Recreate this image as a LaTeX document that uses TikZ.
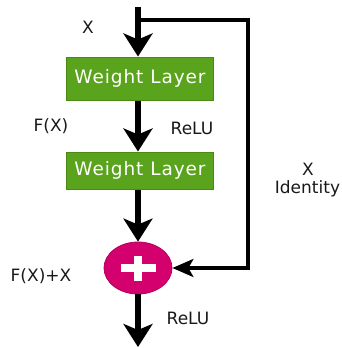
\documentclass[tikz,border=0pt]{standalone}
\usepackage{fontspec}
\setmainfont{DejaVu Sans}
\newfontfamily\boxfont[LetterSpace=5]{DejaVu Sans}
\usetikzlibrary{arrows.meta,shapes.geometric}
\definecolor{layergreen}{HTML}{5AA31C}
\definecolor{layeredge}{HTML}{4A8A14}
\definecolor{summag}{HTML}{D4006E}
\definecolor{sumedge}{HTML}{B2005C}
\tikzset{
  layer/.style={draw=layeredge, line width=1pt, fill=layergreen, text=white,
    minimum width=147pt, inner sep=0pt, font=\boxfont\fontsize{18.5}{20}\selectfont},
  lbl/.style={font=\fontsize{17}{18}\selectfont, text=black!90, inner sep=0pt},
  mainflow/.style={line width=5.5pt, -{Stealth[length=23pt,width=29pt,inset=6pt]}},
  skipflow/.style={line width=3.5pt, -{Stealth[length=21pt,width=18pt,inset=5pt]}},
}
\begin{document}
\begin{tikzpicture}[x=1pt,y=-1pt]
\useasboundingbox (0,0) rectangle (342,348);

% layers and the sum node
\node[layer, minimum height=43pt] (w1) at (140,78.5) {Weight Layer};
\node[layer, minimum height=37pt] (w2) at (140,170.5) {Weight Layer};
\node[ellipse, draw=sumedge, line width=0.8pt, fill=summag, minimum width=68pt,
      minimum height=52pt, inner sep=0pt] (sum) at (138,268) {};
\fill[white] (sum.center) ++(-17.5,-4) rectangle ++(35,8);
\fill[white] (sum.center) ++(-4,-12.5) rectangle ++(8,25);

% reference points
\coordinate (in) at (138,7);
\coordinate (branch) at (138,20);
\coordinate (corner1) at (248,20);
\coordinate (corner2) at (248,268);
\coordinate (out) at (138,347);

% main path
\draw[mainflow] (in) -- (in |- w1.north);
\draw[mainflow] (in |- w1.south) -- (in |- w2.north);
\draw[mainflow] (in |- w2.south) -- (sum.north);
\draw[mainflow] (sum.south) -- (out);

% identity shortcut
\draw[line width=3.5pt] (branch) -- (corner1);
\draw[skipflow] (corner1) ++(0,-1.75) -- (corner2) -- (sum.east);

% labels
\node[lbl] (lx) at (88,27.5) {X};
\node[lbl] (lfx) at (51,126) {F(X)};
\node[lbl] (lrelu1) at (192,128) {ReLU};
\node[lbl] (lx2) at (308,169.5) {X};
\node[lbl] (lid) at (307.5,188.5) {Identity};
\node[lbl] (lsum) at (41,276) {F(X)+X};
\node[lbl] (lrelu2) at (188,318) {ReLU};
\end{tikzpicture}
\end{document}
